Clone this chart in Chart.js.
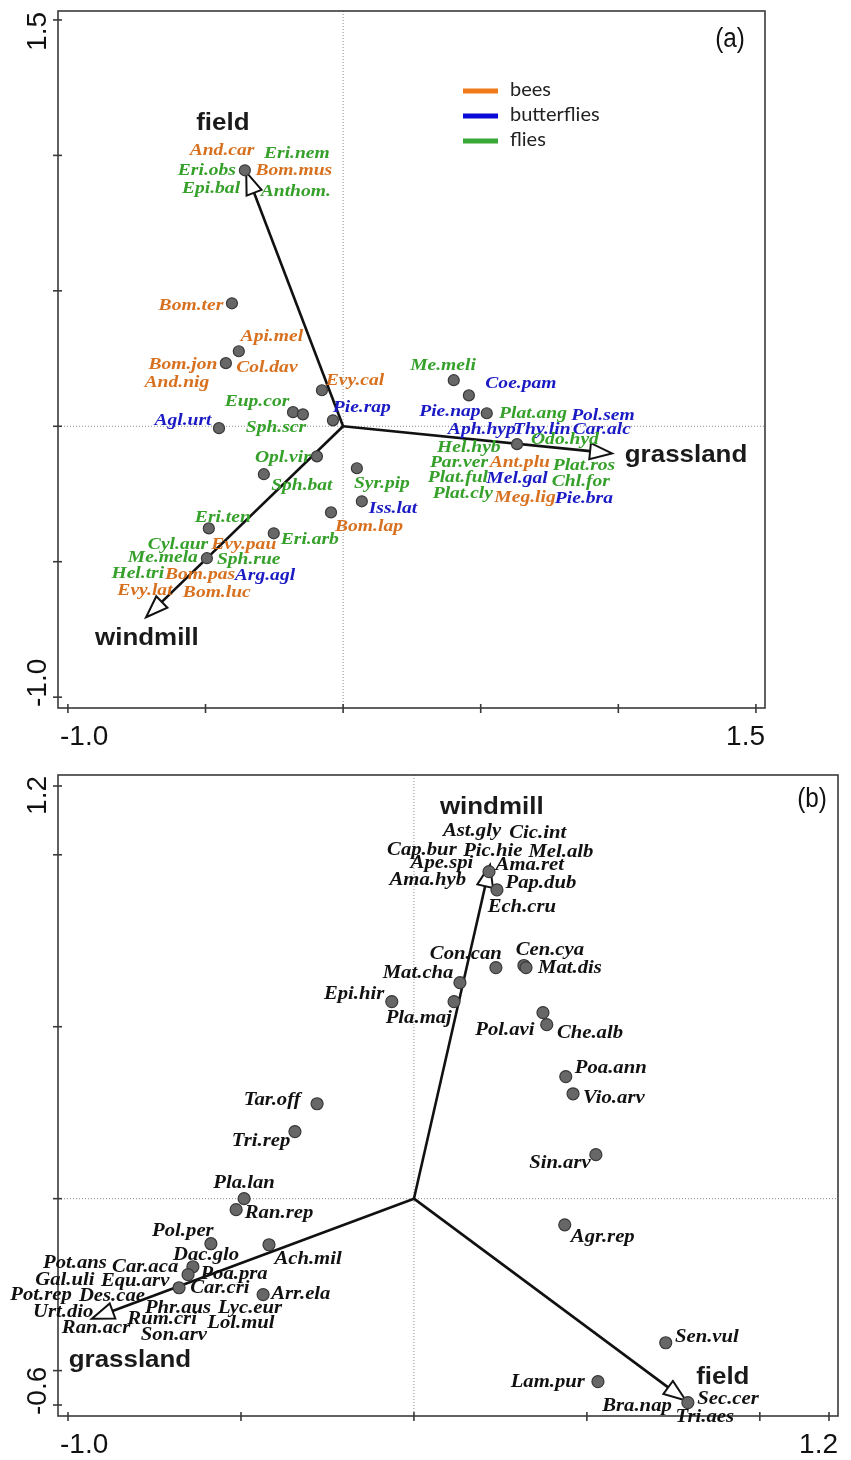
<!DOCTYPE html>
<html>
<head>
<meta charset="utf-8">
<script src="https://cdn.jsdelivr.net/npm/chart.js@4.4.0/dist/chart.umd.min.js"></script>
<style>
  body { margin: 0; background: #fff; width: 851px; height: 1460px; position: relative; overflow: hidden; }
  canvas { position: absolute; left: 0; }
  #chartA { top: 0; }
  #chartB { top: 745px; }
</style>
</head>
<body>
<canvas id="chartA" width="851" height="745"></canvas>
<canvas id="chartB" width="851" height="715"></canvas>
<script>
// ---- panel (a): pollinator species ----
const aPointX = [-0.357, -0.404, -0.379, -0.426, -0.077, -0.182, -0.146, -0.037, -0.451, -0.095, -0.288, 0.050, 0.068, -0.044, -0.488, -0.252, -0.495, 0.402, 0.457, 0.522, 0.632];
const aPointY = [0.945, 0.454, 0.277, 0.233, 0.133, 0.052, 0.044, 0.022, -0.007, -0.111, -0.177, -0.155, -0.277, -0.318, -0.377, -0.395, -0.487, 0.170, 0.114, 0.048, -0.066];

const aNames = ['And.car', 'Eri.nem', 'Eri.obs', 'Bom.mus', 'Epi.bal', 'Anthom.', 'Bom.ter', 'Api.mel', 'Col.dav', 'Bom.jon', 'And.nig', 'Evy.cal', 'Eup.cor', 'Pie.rap', 'Agl.urt', 'Sph.scr', 'Opl.vir', 'Sph.bat', 'Syr.pip', 'Iss.lat', 'Bom.lap', 'Eri.ten', 'Eri.arb', 'Cyl.aur', 'Evy.pau', 'Me.mela', 'Sph.rue', 'Hel.tri', 'Bom.pas', 'Arg.agl', 'Evy.lat', 'Bom.luc', 'Me.meli', 'Coe.pam', 'Pie.nap', 'Plat.ang', 'Pol.sem', 'Aph.hyp', 'Thy.lin', 'Car.alc', 'Hel.hyb', 'Odo.hyd', 'Par.ver', 'Ant.plu', 'Plat.ros', 'Plat.ful', 'Mel.gal', 'Chl.for', 'Plat.cly', 'Meg.lig', 'Pie.bra'];
const aGroups = ['bees', 'flies', 'flies', 'bees', 'flies', 'flies', 'bees', 'bees', 'bees', 'bees', 'bees', 'bees', 'flies', 'butterflies', 'butterflies', 'flies', 'flies', 'flies', 'flies', 'butterflies', 'bees', 'flies', 'flies', 'flies', 'bees', 'flies', 'flies', 'flies', 'bees', 'butterflies', 'bees', 'bees', 'flies', 'butterflies', 'butterflies', 'flies', 'butterflies', 'butterflies', 'butterflies', 'butterflies', 'flies', 'flies', 'flies', 'bees', 'flies', 'flies', 'butterflies', 'flies', 'flies', 'bees', 'butterflies'];
const aLabelX = [-0.440, -0.168, -0.495, -0.179, -0.480, -0.172, -0.553, -0.259, -0.277, -0.582, -0.604, 0.043, -0.313, 0.068, -0.582, -0.244, -0.219, -0.150, 0.141, 0.181, 0.094, -0.437, -0.121, -0.600, -0.361, -0.655, -0.343, -0.746, -0.520, -0.284, -0.720, -0.459, 0.363, 0.646, 0.388, 0.690, 0.944, 0.504, 0.722, 0.940, 0.457, 0.806, 0.421, 0.642, 0.875, 0.417, 0.632, 0.864, 0.435, 0.661, 0.875];
const aLabelY = [1.019, 1.008, 0.945, 0.942, 0.879, 0.868, 0.447, 0.332, 0.218, 0.229, 0.162, 0.170, 0.092, 0.070, 0.022, -0.004, -0.114, -0.218, -0.210, -0.303, -0.369, -0.336, -0.417, -0.436, -0.436, -0.484, -0.491, -0.543, -0.547, -0.550, -0.606, -0.613, 0.225, 0.159, 0.055, 0.048, 0.041, -0.011, -0.011, -0.011, -0.078, -0.048, -0.133, -0.133, -0.144, -0.188, -0.192, -0.203, -0.247, -0.262, -0.266];

const aArrowNames = ['field', 'grassland', 'windmill'];
const aArrowX = [-0.352, 0.977, -0.716];
const aArrowY = [0.938, -0.100, -0.705];
const aArrowLabelX = [-0.437, 1.246, -0.713];
const aArrowLabelY = [1.119, -0.107, -0.783];

const aTicks = [-1.0, -0.5, 0, 0.5, 1.0, 1.5];
const aTickLabels = ['-1.0', '1.5'];

const legendNames = ['bees', 'butterflies', 'flies'];

// ---- panel (b): plant species ----
const bPointX = [0.217, 0.240, 0.237, 0.318, 0.324, 0.133, 0.116, -0.064, 0.373, 0.384, 0.439, 0.460, 0.526, 0.436, -0.280, -0.344, -0.491, -0.514, -0.587, -0.419, -0.639, -0.653, -0.679, -0.436, 0.728, 0.532, 0.792];
const bPointY = [0.951, 0.898, 0.672, 0.678, 0.672, 0.628, 0.573, 0.573, 0.541, 0.506, 0.355, 0.305, 0.128, -0.076, 0.276, 0.195, 0.000, -0.032, -0.131, -0.134, -0.198, -0.221, -0.259, -0.279, -0.419, -0.532, -0.593];

const bNames = ['Ast.gly', 'Cic.int', 'Cap.bur', 'Pic.hie', 'Mel.alb', 'Ape.spi', 'Ama.ret', 'Ama.hyb', 'Pap.dub', 'Ech.cru', 'Con.can', 'Cen.cya', 'Mat.dis', 'Mat.cha', 'Epi.hir', 'Pla.maj', 'Pol.avi', 'Che.alb', 'Poa.ann', 'Vio.arv', 'Sin.arv', 'Agr.rep', 'Tar.off', 'Tri.rep', 'Pla.lan', 'Ran.rep', 'Pol.per', 'Ach.mil', 'Dac.glo', 'Pot.ans', 'Car.aca', 'Poa.pra', 'Gal.uli', 'Equ.arv', 'Car.cri', 'Arr.ela', 'Pot.rep', 'Des.cae', 'Phr.aus', 'Lyc.eur', 'Urt.dio', 'Rum.cri', 'Lol.mul', 'Ran.acr', 'Son.arv', 'Sen.vul', 'Lam.pur', 'Sec.cer', 'Bra.nap', 'Tri.aes'];
const bLabelX = [0.168, 0.358, 0.023, 0.228, 0.425, 0.081, 0.335, 0.040, 0.367, 0.312, 0.150, 0.393, 0.451, 0.012, -0.173, 0.014, 0.263, 0.509, 0.569, 0.578, 0.422, 0.546, -0.410, -0.442, -0.491, -0.390, -0.668, -0.306, -0.601, -0.980, -0.777, -0.520, -1.009, -0.806, -0.561, -0.327, -1.078, -0.873, -0.682, -0.474, -1.014, -0.728, -0.500, -0.919, -0.694, 0.847, 0.387, 0.908, 0.645, 0.841];
const bLabelY = [1.067, 1.061, 1.012, 1.009, 1.006, 0.974, 0.968, 0.925, 0.916, 0.846, 0.710, 0.721, 0.669, 0.654, 0.593, 0.523, 0.489, 0.480, 0.378, 0.291, 0.102, -0.113, 0.285, 0.166, 0.044, -0.044, -0.096, -0.177, -0.166, -0.189, -0.201, -0.221, -0.238, -0.241, -0.262, -0.279, -0.282, -0.285, -0.320, -0.320, -0.331, -0.352, -0.363, -0.378, -0.398, -0.404, -0.535, -0.584, -0.605, -0.637];

const bArrowNames = ['windmill', 'grassland', 'field'];
const bArrowX = [0.220, -0.931, 0.786];
const bArrowY = [0.971, -0.349, -0.587];
const bArrowLabelX = [0.225, -0.821, 0.893];
const bArrowLabelY = [1.137, -0.471, -0.520];

const bXTicks = [-1.0, -0.5, 0, 0.5, 1.0, 1.2];
const bYTicks = [-0.6, -0.5, 0, 0.5, 1.0, 1.2];
const bXTickLabels = ['-1.0', '1.2'];
const bYTickLabels = ['-0.6', '1.2'];

const groupColors = { bees: '#d8711f', butterflies: '#1a1ac4', flies: '#35a02a' };
const legendColors = { bees: '#f07a1a', butterflies: '#0a0ad8', flies: '#38a838' };

function line(ctx, x1, y1, x2, y2) {
    ctx.beginPath();
    ctx.moveTo(x1, y1);
    ctx.lineTo(x2, y2);
    ctx.stroke();
}

function drawArrow(ctx, x0, y0, tx, ty) {
    const ang = Math.atan2(ty - y0, tx - x0);
    const len = 22, half = 8;
    const bx = tx - len * Math.cos(ang), by = ty - len * Math.sin(ang);
    ctx.strokeStyle = '#111';
    ctx.lineWidth = 2.6;
    line(ctx, x0, y0, bx, by);
    ctx.beginPath();
    ctx.moveTo(tx, ty);
    ctx.lineTo(bx + half * Math.sin(ang), by - half * Math.cos(ang));
    ctx.lineTo(bx - half * Math.sin(ang), by + half * Math.cos(ang));
    ctx.closePath();
    ctx.fillStyle = '#fff';
    ctx.fill();
    ctx.lineWidth = 2;
    ctx.stroke();
}

function stretchText(ctx, txt, x, y, sx) {
    ctx.save();
    ctx.translate(x, y);
    ctx.scale(sx, 1);
    ctx.fillText(txt, 0, 0);
    ctx.restore();
}

function makeBiplot(cfg) {
    return {
        id: 'biplot',
        beforeDatasetsDraw(chart) {
            const { ctx, chartArea: a, scales: { x, y } } = chart;
            const x0 = x.getPixelForValue(0), y0 = y.getPixelForValue(0);
            ctx.save();
            // dotted zero lines
            ctx.strokeStyle = '#8c8c8c';
            ctx.lineWidth = 1;
            ctx.setLineDash([1, 2]);
            line(ctx, x0, a.top, x0, a.bottom);
            line(ctx, a.left, y0, a.right, y0);
            ctx.setLineDash([]);
            // frame and ticks
            ctx.strokeStyle = '#3a3a3a';
            ctx.lineWidth = 1.6;
            ctx.strokeRect(a.left, a.top, a.right - a.left, a.bottom - a.top);
            cfg.xTicks.forEach(v => { const px = x.getPixelForValue(v); line(ctx, px, a.bottom - 4, px, a.bottom + 5); });
            cfg.yTicks.forEach(v => { const py = y.getPixelForValue(v); line(ctx, a.left - 5, py, a.left + 4, py); });
            // tick labels at the two ends
            ctx.fillStyle = '#111';
            ctx.font = '28px "Liberation Sans", Arial, sans-serif';
            ctx.textBaseline = 'middle';
            ctx.textAlign = 'left';
            ctx.fillText(cfg.xTickLabels[0], a.left + 2, a.bottom + 29);
            ctx.textAlign = 'right';
            ctx.fillText(cfg.xTickLabels[1], a.right, a.bottom + 29);
            ctx.save();
            ctx.translate(38, a.top);
            ctx.rotate(-Math.PI / 2);
            ctx.textAlign = 'right';
            ctx.fillText(cfg.yTickLabels[1], -1, 0);
            ctx.restore();
            ctx.save();
            ctx.translate(38, a.bottom);
            ctx.rotate(-Math.PI / 2);
            ctx.textAlign = 'left';
            ctx.fillText(cfg.yTickLabels[0], 1, 0);
            ctx.restore();
            // environmental arrows
            cfg.arrowX.forEach((vx, i) => {
                drawArrow(ctx, x0, y0, x.getPixelForValue(vx), y.getPixelForValue(cfg.arrowY[i]));
            });
            ctx.restore();
        },
        afterDatasetsDraw(chart) {
            const { ctx, scales: { x, y } } = chart;
            ctx.save();
            ctx.textAlign = 'center';
            ctx.textBaseline = 'middle';
            // species names
            ctx.font = 'bold italic ' + cfg.labelSize + 'px "Liberation Serif", "Times New Roman", serif';
            cfg.names.forEach((n, i) => {
                ctx.fillStyle = cfg.groups ? groupColors[cfg.groups[i]] : '#111';
                stretchText(ctx, n, x.getPixelForValue(cfg.labelX[i]), y.getPixelForValue(cfg.labelY[i]), 1.15);
            });
            // arrow names
            ctx.fillStyle = '#1a1a1a';
            ctx.font = 'bold 24px "Liberation Sans", Arial, sans-serif';
            cfg.arrowNames.forEach((n, i) => {
                stretchText(ctx, n, x.getPixelForValue(cfg.arrowLabelX[i]), y.getPixelForValue(cfg.arrowLabelY[i]), 1.08);
            });
            // panel letter
            ctx.fillStyle = '#111';
            ctx.font = '27px "Liberation Sans", Arial, sans-serif';
            stretchText(ctx, cfg.letter, cfg.letterPos[0], cfg.letterPos[1], 0.9);
            // legend (panel a only)
            if (cfg.legend) {
                ctx.font = '20px Lato, "Open Sans", sans-serif';
                ctx.textAlign = 'left';
                ctx.lineWidth = 5;
                cfg.legend.forEach((n, i) => {
                    const ly = 91 + i * 25;
                    ctx.strokeStyle = legendColors[n];
                    line(ctx, 463, ly, 498, ly);
                    ctx.fillStyle = '#222';
                    ctx.fillText(n, 510, ly - 1);
                });
            }
            ctx.restore();
        }
    };
}

function pointData(xs, ys) {
    return xs.map((v, i) => ({ x: v, y: ys[i] }));
}

function makeChart(id, points, radius, padding, xr, yr, cfg) {
    return new Chart(document.getElementById(id), {
        type: 'scatter',
        data: {
            datasets: [{
                data: points,
                pointRadius: radius,
                pointHoverRadius: radius,
                pointBackgroundColor: '#676767',
                pointBorderColor: '#383838',
                pointBorderWidth: 1.2
            }]
        },
        options: {
            responsive: false,
            animation: false,
            events: [],
            layout: { padding: padding },
            scales: {
                x: { type: 'linear', min: xr[0], max: xr[1], display: false },
                y: { type: 'linear', min: yr[0], max: yr[1], display: false }
            },
            plugins: { legend: { display: false }, tooltip: { enabled: false } }
        },
        plugins: [makeBiplot(cfg)]
    });
}

makeChart('chartA', pointData(aPointX, aPointY), 5.5,
    { left: 58, top: 11, right: 86, bottom: 37 },
    [-1.036, 1.533], [-1.04, 1.533],
    {
        xTicks: aTicks, yTicks: aTicks, xTickLabels: aTickLabels, yTickLabels: ['-1.0', '1.5'],
        names: aNames, groups: aGroups, labelX: aLabelX, labelY: aLabelY, labelSize: 17,
        arrowNames: aArrowNames, arrowX: aArrowX, arrowY: aArrowY,
        arrowLabelX: aArrowLabelX, arrowLabelY: aArrowLabelY,
        letter: '(a)', letterPos: [730, 40], legend: legendNames
    });

makeChart('chartB', pointData(bPointX, bPointY), 6,
    { left: 58, top: 30, right: 13, bottom: 44 },
    [-1.029, 1.226], [-0.632, 1.232],
    {
        xTicks: bXTicks, yTicks: bYTicks, xTickLabels: bXTickLabels, yTickLabels: bYTickLabels,
        names: bNames, groups: null, labelX: bLabelX, labelY: bLabelY, labelSize: 18,
        arrowNames: bArrowNames, arrowX: bArrowX, arrowY: bArrowY,
        arrowLabelX: bArrowLabelX, arrowLabelY: bArrowLabelY,
        letter: '(b)', letterPos: [812, 55], legend: null
    });
</script>
</body>
</html>
